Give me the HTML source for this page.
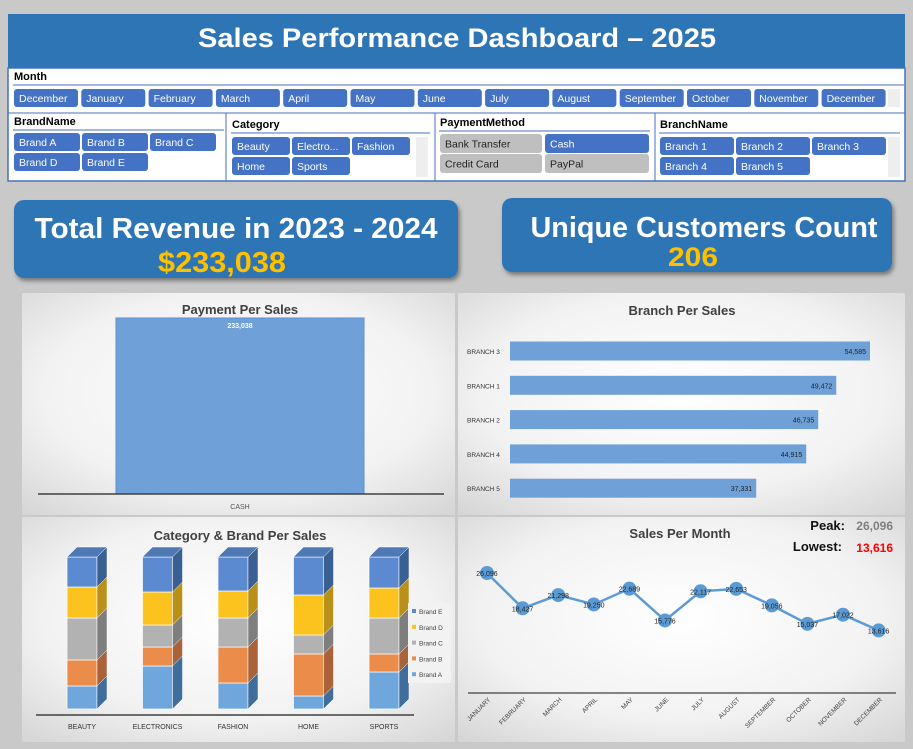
<!DOCTYPE html>
<html><head><meta charset="utf-8"><style>
body{margin:0;background:#c9c9c9;font-family:"Liberation Sans",sans-serif}
svg{display:block}
</style></head><body>
<svg id="s" width="913" height="749" viewBox="0 0 913 749" xmlns="http://www.w3.org/2000/svg" font-family="Liberation Sans, sans-serif">
<defs>
<radialGradient id="pg" cx="50%" cy="45%" r="75%"><stop offset="0" stop-color="#ffffff"/><stop offset="0.6" stop-color="#f2f2f2"/><stop offset="1" stop-color="#d4d4d4"/></radialGradient>
<filter id="sh" x="-5%" y="-10%" width="110%" height="130%"><feDropShadow dx="2" dy="3" stdDeviation="2" flood-opacity="0.4"/></filter>
</defs>
<rect width="913" height="749" fill="#c9c9c9"/>
<rect x="8" y="14" width="897" height="54" fill="#2e75b6"/>
<text x="457" y="47" text-anchor="middle" fill="#fff" font-size="27" font-weight="bold" textLength="518" lengthAdjust="spacingAndGlyphs">Sales Performance Dashboard – 2025</text>
<rect x="8" y="68" width="897" height="113" fill="#fff" stroke="#4472c4" stroke-width="1.5"/>
<g id="slicers"></g>
<rect x="14" y="200" width="444" height="78" rx="10" fill="#2e75b6" filter="url(#sh)"/>
<text x="236" y="238" text-anchor="middle" fill="#fff" font-size="29" font-weight="bold" textLength="403" lengthAdjust="spacingAndGlyphs">Total Revenue in 2023 - 2024</text>
<text x="222" y="272" text-anchor="middle" fill="#ffc000" font-size="29" font-weight="bold" textLength="128" lengthAdjust="spacingAndGlyphs">$233,038</text>
<rect x="502" y="198" width="390" height="74" rx="10" fill="#2e75b6" filter="url(#sh)"/>
<text x="704" y="237" text-anchor="middle" fill="#fff" font-size="29" font-weight="bold" textLength="347" lengthAdjust="spacingAndGlyphs">Unique Customers Count</text>
<text x="693" y="266" text-anchor="middle" fill="#ffc000" font-size="27" font-weight="bold" textLength="50" lengthAdjust="spacingAndGlyphs">206</text>
<rect x="22" y="293" width="433" height="222" fill="url(#pg)"/>
<rect x="458" y="293" width="447" height="222" fill="url(#pg)"/>
<rect x="22" y="517" width="433" height="225" fill="url(#pg)"/>
<rect x="458" y="517" width="447" height="225" fill="url(#pg)"/>
<g id="charts"></g>
<text x="240" y="314" text-anchor="middle" fill="#404040" font-size="13" font-weight="bold">Payment Per Sales</text>
<text x="682" y="315" text-anchor="middle" fill="#404040" font-size="13" font-weight="bold">Branch Per Sales</text>
<text x="240" y="540" text-anchor="middle" fill="#404040" font-size="13" font-weight="bold">Category &amp; Brand Per Sales</text>
<text x="680" y="538" text-anchor="middle" fill="#404040" font-size="13" font-weight="bold">Sales Per Month</text>
<text x="845" y="530" text-anchor="end" fill="#111" font-size="13" font-weight="bold">Peak:</text>
<text x="893" y="530" text-anchor="end" fill="#7f7f7f" font-size="12" font-weight="bold">26,096</text>
<text x="842" y="551" text-anchor="end" fill="#111" font-size="13" font-weight="bold">Lowest:</text>
<text x="893" y="552" text-anchor="end" fill="#ff0000" font-size="12" font-weight="bold">13,616</text>
<script>
const NS='http://www.w3.org/2000/svg';
function mk(p,t,a,txt){const e=document.createElementNS(NS,t);for(const k in a)e.setAttribute(k,a[k]);if(txt!==undefined)e.textContent=txt;p.appendChild(e);return e;}
const sl=document.getElementById('slicers');
const months=['December','January','February','March','April','May','June','July','August','September','October','November','December'];
function btn(x,y,w,h,label,sel){
  const r=mk(sl,'rect',{x:x,y:y,width:w,height:h,rx:3,fill:sel?'#4472c4':'#bfbfbf'});
  
  
  const t=mk(sl,'text',{x:x+5,y:y+h/2+4,'font-size':10.5,fill:sel?'#fff':'#222'},label);
  
  
}
function head(x,y,label,w){
  const t=mk(sl,'text',{x:x,y:y,'font-size':11,'font-weight':'bold',fill:'#000'},label);
  
  
  const l=mk(sl,'line',{x1:x-1,y1:y+5,x2:x+w,y2:y+5,stroke:'#4472c4','stroke-width':1});
  
  
}
head(14,80,'Month',890);
months.forEach((m,i)=>btn(14+i*67.3,89,64,18,m,true));
mk(sl,'rect',{x:888,y:89,width:12,height:18,fill:'#eee'});
[226,435,655].forEach(px=>mk(sl,'line',{x1:px,y1:113,x2:px,y2:181,stroke:'#4472c4'}));
mk(sl,'line',{x1:8,y1:113,x2:905,y2:113,stroke:'#4472c4'});
head(14,125,'BrandName',210);
['Brand A','Brand B','Brand C'].forEach((b,i)=>btn(14+i*68,133,66,18,b,true));
['Brand D','Brand E'].forEach((b,i)=>btn(14+i*68,153,66,18,b,true));
head(232,128,'Category',198);
['Beauty','Electro...','Fashion'].forEach((b,i)=>btn(232+i*60,137,58,18,b,true));
['Home','Sports'].forEach((b,i)=>btn(232+i*60,157,58,18,b,true));
mk(sl,'rect',{x:416,y:137,width:12,height:40,fill:'#eee'});
head(440,126,'PaymentMethod',210);
btn(440,134,102,19,'Bank Transfer',false);btn(545,134,104,19,'Cash',true);
btn(440,154,102,19,'Credit Card',false);btn(545,154,104,19,'PayPal',false);
head(660,128,'BranchName',240);
['Branch 1','Branch 2','Branch 3'].forEach((b,i)=>btn(660+i*76,137,74,18,b,true));
['Branch 4','Branch 5'].forEach((b,i)=>btn(660+i*76,157,74,18,b,true));
mk(sl,'rect',{x:888,y:137,width:12,height:40,fill:'#eee'});

const ch=document.getElementById('charts');
// ---------- Payment chart ----------
const payCats=['CASH'];
const payVals=[233038];
const payMax=233038;
function payY(v){return 494-v/payMax*176;}
payCats.forEach((c,i)=>{
  const r=mk(ch,'rect',{x:116,y:payY(payVals[i]),width:248,height:494-payY(payVals[i]),fill:'#6fa0d8',stroke:'#5b8fcf'});
  
  
  const t=mk(ch,'text',{x:240,y:payY(payVals[i])+10,'text-anchor':'middle','font-size':7,'font-weight':'bold',fill:'#fff'},payVals[i].toLocaleString('en-US'));
  
  
  const l=mk(ch,'text',{x:240,y:509,'text-anchor':'middle','font-size':7,fill:'#555'},c);
  
  
});
const pa=mk(ch,'line',{x1:38,y1:494,x2:444,y2:494,stroke:'#404040','stroke-width':1.5});



// ---------- Branch chart ----------
const branchCats=['BRANCH 3','BRANCH 1','BRANCH 2','BRANCH 4','BRANCH 5'];
const branchVals=[54585,49472,46735,44915,37331];
function bx(v){return 510+v/54585*360;}
branchCats.forEach((c,i)=>{
  const cy=351+i*34.3;
  const r=mk(ch,'rect',{x:510,y:cy-9.5,width:bx(branchVals[i])-510,height:19,fill:'#6fa0d8'});
  
  
  const t=mk(ch,'text',{x:bx(branchVals[i])-4,y:cy+3,'text-anchor':'end','font-size':7,fill:'#222'},branchVals[i].toLocaleString('en-US'));
  
  
  const l=mk(ch,'text',{x:467,y:cy+3,'font-size':6.5,fill:'#333'},c);
  
  
});

// ---------- Category & Brand stacked (100%) ----------
const catCats=['BEAUTY','ELECTRONICS','FASHION','HOME','SPORTS'];
const brandA=[23,43,26,13,37];
const brandB=[26,19,36,42,18];
const brandC=[42,22,29,19,36];
const brandD=[31,33,27,40,30];
const brandE=[30,35,34,38,31];
const series=[['Brand A',brandA,'#6fa7dc','#3f6d9c'],['Brand B',brandB,'#ec8c4a','#a9623a'],['Brand C',brandC,'#b2b2b2','#7e7e7e'],['Brand D',brandD,'#fcc21e','#b9901a'],['Brand E',brandE,'#5b8ad0','#3a5f93']];
const cBase=709,cH=152;
catCats.forEach((c,i)=>{
  const x=67+i*75.5;
  let tot=0;series.forEach(s=>tot+=s[1][i]);
  let y=cBase;
  series.forEach((s,k)=>{
    const h=s[1][i]/tot*cH;
    const f=mk(ch,'rect',{x:x,y:y-h,width:30,height:h,fill:s[2],stroke:'#fff','stroke-width':0.7});
    
    
    const sd=mk(ch,'polygon',{points:`${x+30},${y} ${x+40},${y-10} ${x+40},${y-h-10} ${x+30},${y-h}`,fill:s[3],stroke:'#fff','stroke-width':0.5});
    
    
    y-=h;
  });
  const tp=mk(ch,'polygon',{points:`${x},${y} ${x+10},${y-10} ${x+40},${y-10} ${x+30},${y}`,fill:'#4f79b5',stroke:'#fff','stroke-width':0.5});
  
  
  const l=mk(ch,'text',{x:x+15,y:729,'text-anchor':'middle','font-size':7,fill:'#333'},c);
  
  
});
const ca=mk(ch,'line',{x1:36,y1:715,x2:414,y2:715,stroke:'#404040','stroke-width':1.5});


const lg=mk(ch,'rect',{x:408,y:603,width:43,height:80,fill:'#f2f2f2'});


series.slice().reverse().forEach((s,k)=>{
  const yy=612+k*15.8;
  const sw=mk(ch,'rect',{x:412,y:yy-3,width:4,height:4,fill:s[2]});
  
  
  const t=mk(ch,'text',{x:419,y:yy+2,'font-size':6.5,fill:'#444'},s[0]);
  
  
});

// ---------- Sales per month ----------
const monCats=['JANUARY','FEBRUARY','MARCH','APRIL','MAY','JUNE','JULY','AUGUST','SEPTEMBER','OCTOBER','NOVEMBER','DECEMBER'];
const monVals=[26096,18427,21298,19250,22689,15776,22117,22653,19056,15037,17022,13616];
function mx(i){return 487+i*35.6;}
function my(v){return 693-v*120/26096;}
const pts=monVals.map((v,i)=>mx(i)+','+my(v)).join(' ');
const pl=mk(ch,'polyline',{points:pts,fill:'none',stroke:'#5b9bd5','stroke-width':2.5});


monVals.forEach((v,i)=>{
  const c=mk(ch,'circle',{cx:mx(i),cy:my(v),r:7,fill:'#5b9bd5'});
  
  
  const t=mk(ch,'text',{x:mx(i),y:my(v)+3,'text-anchor':'middle','font-size':7,fill:'#222'},v.toLocaleString('en-US'));
  
  
  const l=mk(ch,'text',{x:mx(i)+4,y:700,'text-anchor':'end','font-size':6.5,fill:'#444',transform:`rotate(-45 ${mx(i)+4} 700)`},monCats[i]);
  
  
});
const ma=mk(ch,'line',{x1:468,y1:693,x2:896,y2:693,stroke:'#404040','stroke-width':1.2});


</script>
</body></html>
